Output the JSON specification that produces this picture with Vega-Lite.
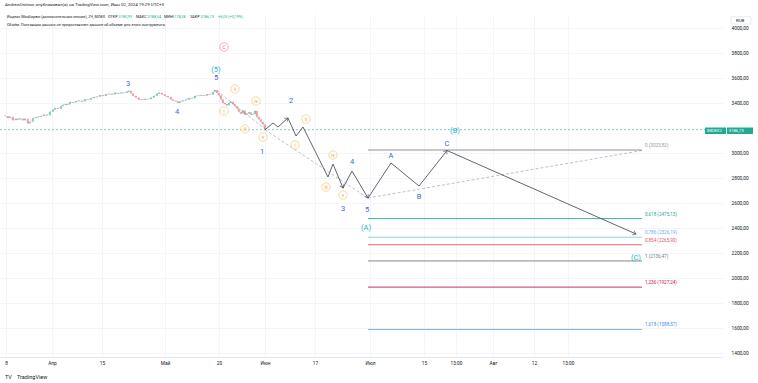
{
  "$schema": "https://vega.github.io/schema/vega-lite/v6.json",
  "width": 723,
  "height": 343,
  "autosize": {"type": "none"},
  "padding": {"left": 0, "top": 14, "right": 35, "bottom": 26},
  "background": "white",
  "config": {
    "font": "Roboto",
    "view": {"stroke": null},
    "axis": {"title": null}
  },
  "title": {
    "text": "AndrewUstinov опубликовал(а) на TradingView.com, Июн 02, 2024 19:29 UTC+3",
    "anchor": "start",
    "frame": "group",
    "fontSize": 4.4,
    "fontWeight": "normal",
    "color": "#131722",
    "offset": 7,
    "dx": 5
  },
  "datasets": {
    "candles": [
      {"t":5,"p":3296,"o":3300},{"t":8,"p":3280,"o":3296},{"t":10,"p":3290,"o":3280},{"t":13,"p":3262,"o":3290},
      {"t":16,"p":3275,"o":3262},{"t":18,"p":3268,"o":3275},{"t":20,"p":3276,"o":3268},{"t":23,"p":3262,"o":3276},
      {"t":25,"p":3274,"o":3262},{"t":28,"p":3236,"o":3274},{"t":30,"p":3250,"o":3236},{"t":33,"p":3278,"o":3250},
      {"t":36,"p":3284,"o":3278},{"t":38,"p":3290,"o":3284},{"t":41,"p":3296,"o":3290},{"t":44,"p":3306,"o":3296},
      {"t":47,"p":3300,"o":3306},{"t":50,"p":3330,"o":3300},{"t":53,"p":3346,"o":3330},{"t":55,"p":3358,"o":3346},
      {"t":58,"p":3352,"o":3358},{"t":61,"p":3374,"o":3352},{"t":63,"p":3384,"o":3374},{"t":66,"p":3392,"o":3384},
      {"t":68,"p":3388,"o":3392},{"t":70,"p":3408,"o":3388},{"t":73,"p":3404,"o":3408},{"t":76,"p":3414,"o":3404},
      {"t":79,"p":3418,"o":3414},{"t":82,"p":3412,"o":3418},{"t":85,"p":3428,"o":3412},{"t":88,"p":3426,"o":3428},
      {"t":91,"p":3438,"o":3426},{"t":94,"p":3446,"o":3438},{"t":97,"p":3450,"o":3446},{"t":100,"p":3462,"o":3450},
      {"t":103,"p":3456,"o":3462},{"t":106,"p":3470,"o":3456},{"t":109,"p":3474,"o":3470},{"t":112,"p":3468,"o":3474},
      {"t":115,"p":3482,"o":3468},{"t":118,"p":3476,"o":3482},{"t":121,"p":3482,"o":3476},{"t":124,"p":3480,"o":3482},
      {"t":127,"p":3490,"o":3480},{"t":129,"p":3498,"o":3490},{"t":131,"p":3478,"o":3498},{"t":133,"p":3458,"o":3478},
      {"t":136,"p":3444,"o":3458},{"t":139,"p":3428,"o":3444},{"t":142,"p":3424,"o":3428},{"t":145,"p":3432,"o":3424},
      {"t":148,"p":3430,"o":3432},{"t":151,"p":3442,"o":3430},{"t":154,"p":3456,"o":3442},{"t":157,"p":3474,"o":3456},
      {"t":159,"p":3482,"o":3474},{"t":162,"p":3470,"o":3482},{"t":165,"p":3458,"o":3470},{"t":168,"p":3448,"o":3458},
      {"t":171,"p":3430,"o":3448},{"t":173,"p":3420,"o":3430},{"t":176,"p":3414,"o":3420},{"t":178,"p":3400,"o":3414},
      {"t":180,"p":3412,"o":3400},{"t":183,"p":3420,"o":3412},{"t":186,"p":3426,"o":3420},{"t":189,"p":3440,"o":3426},
      {"t":192,"p":3436,"o":3440},{"t":195,"p":3456,"o":3436},{"t":198,"p":3458,"o":3456},{"t":201,"p":3462,"o":3458},
      {"t":204,"p":3458,"o":3462},{"t":207,"p":3470,"o":3458},{"t":210,"p":3466,"o":3470},{"t":213,"p":3490,"o":3466},
      {"t":215,"p":3504,"o":3490},{"t":217,"p":3480,"o":3504},{"t":219,"p":3462,"o":3480},{"t":221,"p":3430,"o":3462},
      {"t":223,"p":3400,"o":3430},{"t":225,"p":3392,"o":3400},{"t":227,"p":3380,"o":3392},{"t":229,"p":3400,"o":3380},
      {"t":231,"p":3410,"o":3400},{"t":233,"p":3390,"o":3410},{"t":235,"p":3374,"o":3390},{"t":237,"p":3356,"o":3374},
      {"t":239,"p":3330,"o":3356},{"t":241,"p":3316,"o":3330},{"t":243,"p":3340,"o":3316},{"t":245,"p":3306,"o":3340},
      {"t":247,"p":3314,"o":3306},{"t":249,"p":3326,"o":3314},{"t":251,"p":3306,"o":3326},{"t":253,"p":3310,"o":3306},
      {"t":255,"p":3338,"o":3310},{"t":257,"p":3290,"o":3338},{"t":259,"p":3270,"o":3290},{"t":261,"p":3250,"o":3270},
      {"t":263,"p":3230,"o":3250},{"t":265,"p":3186.73,"o":3230}
    ],
    "path": [
      {"t":265,"p":3186},{"t":273,"p":3240},{"t":278,"p":3208},{"t":288,"p":3280},{"t":296,"p":3136},
      {"t":303,"p":3208},{"t":328,"p":2808},{"t":333,"p":2912},{"t":343,"p":2720},{"t":352,"p":2856},
      {"t":368,"p":2640},{"t":391,"p":2920},{"t":419,"p":2736},{"t":447,"p":3020},{"t":636,"p":2352}
    ],
    "arrows": [
      {"t":288,"p":3280,"ang":-42},{"t":343,"p":2720,"ang":67},{"t":368,"p":2640,"ang":59},
      {"t":447,"p":3020,"ang":-51},{"t":636,"p":2352,"ang":23}
    ],
    "dashed": [
      {"seg":"a","t":217,"p":3500},{"seg":"a","t":265,"p":3190},
      {"seg":"b","t":265,"p":3186},{"seg":"b","t":368,"p":2640},
      {"seg":"c","t":368,"p":2640},{"seg":"c","t":642,"p":3020}
    ],
    "fib": [
      {"lvl":"0","t":368,"t2":642,"p":3023.82},
      {"lvl":"0,618","t":368,"t2":642,"p":2475.13},
      {"lvl":"0,786","t":368,"t2":642,"p":2326.19},
      {"lvl":"0,854","t":368,"t2":642,"p":2265.90},
      {"lvl":"1","t":368,"t2":642,"p":2136.47},
      {"lvl":"1,236","t":368,"t2":642,"p":1927.24},
      {"lvl":"1,618","t":368,"t2":642,"p":1588.57}
    ],
    "fiblab": [
      {"lvl":"0","t":645,"p":3023.82,"label":"0 (3023,82)"},
      {"lvl":"0,618","t":645,"p":2475.13,"label":"0,618 (2475,13)"},
      {"lvl":"0,786","t":645,"p":2326.19,"label":"0,786 (2326,19)"},
      {"lvl":"0,854","t":645,"p":2265.90,"label":"0,854 (2265,90)"},
      {"lvl":"1","t":645,"p":2136.47,"label":"1 (2136,47)"},
      {"lvl":"1,236","t":645,"p":1927.24,"label":"1,236 (1927,24)"},
      {"lvl":"1,618","t":645,"p":1588.57,"label":"1,618 (1588,57)"}
    ],
    "waves": [
      {"g":"b","t":128,"p":3552,"txt":"3"},{"g":"b","t":177,"p":3328,"txt":"4"},{"g":"b","t":216,"p":3600,"txt":"5"},
      {"g":"b","t":262,"p":3008,"txt":"1"},{"g":"b","t":291,"p":3416,"txt":"2"},{"g":"b","t":343,"p":2552,"txt":"3"},
      {"g":"b","t":352,"p":2928,"txt":"4"},{"g":"b","t":367,"p":2544,"txt":"5"},{"g":"b","t":391,"p":2976,"txt":"A"},
      {"g":"b","t":419,"p":2648,"txt":"B"},{"g":"b","t":447,"p":3072,"txt":"C"},
      {"g":"c","t":216,"p":3664,"txt":"(5)"},{"g":"c","t":366,"p":2400,"txt":"(A)"},
      {"g":"c","t":455,"p":3176,"txt":"(B)"},{"g":"c","t":636,"p":2160,"txt":"(C)"}
    ],
    "circled": [
      {"g":"o","t":224,"p":3336,"txt":"i"},{"g":"o","t":235,"p":3512,"txt":"ii"},{"g":"o","t":245,"p":3192,"txt":"iii"},
      {"g":"o","t":256,"p":3416,"txt":"iv"},{"g":"o","t":263,"p":3128,"txt":"v"},{"g":"o","t":295,"p":3064,"txt":"i"},
      {"g":"o","t":306,"p":3272,"txt":"ii"},{"g":"o","t":326,"p":2728,"txt":"iii"},{"g":"o","t":333,"p":2984,"txt":"iv"},
      {"g":"o","t":343,"p":2664,"txt":"v"},{"g":"r","t":224,"p":3848,"txt":"C"}
    ],
    "legend": [
      {"g":"k","t":7,"p":4088,"txt":"Индекс Мосбиржи (дополнительная сессия), 2Ч, MOEX"},
      {"g":"k","t":108,"p":4088,"txt":"ОТКР"},{"g":"v","t":118.5,"p":4088,"txt":"3180,93"},
      {"g":"k","t":136,"p":4088,"txt":"МАКС"},{"g":"v","t":147.5,"p":4088,"txt":"3188,54"},
      {"g":"k","t":164,"p":4088,"txt":"МИН"},{"g":"v","t":172,"p":4088,"txt":"3178,38"},
      {"g":"k","t":190,"p":4088,"txt":"ЗАКР"},{"g":"v","t":200.5,"p":4088,"txt":"3186,73"},
      {"g":"v","t":218,"p":4088,"txt":"+6,05 (+0,19%)"},
      {"g":"k","t":7,"p":4024,"txt":"Объём: Поставщик данных не предоставляет данные об объеме для этого инструмента."}
    ],
    "last": [{"t":0,"t2":723,"p":3186.73}],
    "lastbox": [
      {"t":705,"t2":726,"p":3204,"p2":3152,"txt":"IMOEX2"},
      {"t":727,"t2":753,"p":3204,"p2":3152,"txt":"3186,73"}
    ],
    "rub": [{"t":731,"t2":751,"p":4090,"p2":4032,"txt":"RUB"}],
    "logo": [{"t":5,"p":1208,"txt":"TV"},{"t":17,"p":1208,"txt":"TradingView"}]
  },
  "encoding": {
    "x": {
      "field": "t", "type": "quantitative",
      "scale": {"domain": [0, 723], "nice": false, "zero": false},
      "axis": {
        "orient": "bottom",
        "values": [6, 52, 102, 165, 219, 265, 315, 370, 424, 456, 493, 534, 568],
        "labelExpr": "datum.value == 6 ? '8' : datum.value == 52 ? 'Апр' : datum.value == 102 ? '15' : datum.value == 165 ? 'Май' : datum.value == 219 ? '20' : datum.value == 265 ? 'Июн' : datum.value == 315 ? '17' : datum.value == 370 ? 'Июл' : datum.value == 424 ? '15' : datum.value == 456 ? '13:00' : datum.value == 493 ? 'Авг' : datum.value == 534 ? '12' : '13:00'",
        "labelFontSize": 4.8, "labelColor": "#131722", "labelPadding": 3,
        "labelFlush": false, "labelOverlap": false,
        "ticks": false, "domain": true, "domainColor": "#e0e3eb", "domainWidth": 0.8,
        "grid": true, "gridColor": "#f0f3fa", "gridWidth": 0.8
      }
    },
    "y": {
      "field": "p", "type": "quantitative",
      "scale": {"domain": [1368, 4112], "nice": false, "zero": false},
      "axis": {
        "orient": "right",
        "values": [1400, 1600, 1800, 2000, 2200, 2400, 2600, 2800, 3000, 3400, 3600, 3800, 4000],
        "labelExpr": "replace(format(datum.value, '.2f'), '.', ',')",
        "labelFontSize": 4.8, "labelColor": "#131722", "labelPadding": 8,
        "ticks": false, "domain": false,
        "grid": true, "gridColor": "#f0f3fa", "gridWidth": 0.8
      }
    }
  },
  "layer": [
    {
      "data": {"name": "last"},
      "mark": {"type": "rule", "color": "#22ab94", "strokeWidth": 0.6, "strokeDash": [2, 2]},
      "encoding": {"x2": {"field": "t2"}}
    },
    {
      "data": {"name": "fib"},
      "mark": {"type": "rule"},
      "encoding": {
        "x2": {"field": "t2"},
        "color": {"condition": [
          {"test": "datum.lvl == '0'", "value": "#c5c7cd"},
          {"test": "datum.lvl == '0,618'", "value": "#26a69a"},
          {"test": "datum.lvl == '0,786'", "value": "#8cc6f0"},
          {"test": "datum.lvl == '0,854'", "value": "#e0575f"},
          {"test": "datum.lvl == '1,236'", "value": "#c2185b"},
          {"test": "datum.lvl == '1,618'", "value": "#64b0ee"}
        ], "value": "#787b86"},
        "strokeWidth": {"condition": {"test": "datum.lvl == '0'", "value": 1.8}, "value": 0.9}
      }
    },
    {
      "data": {"name": "fiblab"},
      "mark": {"type": "text", "align": "left", "baseline": "bottom", "dy": -2, "fontSize": 4.6},
      "encoding": {
        "text": {"field": "label"},
        "color": {"condition": [
          {"test": "datum.lvl == '0'", "value": "#9598a1"},
          {"test": "datum.lvl == '0,618'", "value": "#26a69a"},
          {"test": "datum.lvl == '0,786'", "value": "#64b0ee"},
          {"test": "datum.lvl == '0,854'", "value": "#e0575f"},
          {"test": "datum.lvl == '1,236'", "value": "#c2185b"},
          {"test": "datum.lvl == '1,618'", "value": "#3d8fe0"}
        ], "value": "#787b86"}
      }
    },
    {
      "data": {"name": "dashed"},
      "mark": {"type": "line", "color": "#a3a6af", "strokeWidth": 0.7, "strokeDash": [3, 2]},
      "encoding": {"detail": {"field": "seg"}}
    },
    {
      "data": {"name": "candles"},
      "mark": {"type": "line", "color": "#a8b3b0", "strokeWidth": 0.5},
      "encoding": {}
    },
    {
      "data": {"name": "candles"},
      "mark": {"type": "rule", "strokeWidth": 1},
      "encoding": {
        "y2": {"field": "o"},
        "color": {"condition": {"test": "datum.p >= datum.o", "value": "#26a69a"}, "value": "#ef5350"}
      }
    },
    {
      "data": {"name": "path"},
      "mark": {"type": "line", "color": "#50535e", "strokeWidth": 0.9},
      "encoding": {}
    },
    {
      "data": {"name": "arrows"},
      "mark": {"type": "point", "shape": "M-1,-0.7L0,0L-1,0.7", "filled": false, "color": "#50535e", "strokeWidth": 0.9, "size": 40},
      "encoding": {"angle": {"field": "ang", "type": "quantitative", "scale": null}}
    },
    {
      "data": {"name": "circled"},
      "mark": {"type": "point", "shape": "circle", "filled": true, "fill": "white", "strokeWidth": 0.8, "size": 70},
      "encoding": {
        "stroke": {"condition": {"test": "datum.g == 'r'", "value": "#e57373"}, "value": "#f7b955"}
      }
    },
    {
      "data": {"name": "circled"},
      "mark": {"type": "text", "align": "center", "baseline": "middle", "fontSize": 5},
      "encoding": {
        "text": {"field": "txt"},
        "color": {"condition": {"test": "datum.g == 'r'", "value": "#e57373"}, "value": "#f0a030"}
      }
    },
    {
      "data": {"name": "waves"},
      "mark": {"type": "text", "align": "center", "baseline": "middle", "fontSize": 7.5},
      "encoding": {
        "text": {"field": "txt"},
        "color": {"condition": {"test": "datum.g == 'c'", "value": "#26b5c9"}, "value": "#3b69c8"}
      }
    },
    {
      "data": {"name": "legend"},
      "mark": {"type": "text", "align": "left", "baseline": "middle", "fontSize": 3.8},
      "encoding": {
        "text": {"field": "txt"},
        "color": {"condition": {"test": "datum.g == 'v'", "value": "#22ab94"}, "value": "#131722"}
      }
    },
    {
      "data": {"name": "lastbox"},
      "mark": {"type": "rect", "color": "#22ab94"},
      "encoding": {"x2": {"field": "t2"}, "y2": {"field": "p2"}}
    },
    {
      "data": {"name": "lastbox"},
      "mark": {"type": "text", "align": "left", "baseline": "top", "dx": 1.8, "dy": 1.4, "fontSize": 4.2, "color": "white"},
      "encoding": {"text": {"field": "txt"}}
    },
    {
      "data": {"name": "rub"},
      "mark": {"type": "rect", "fill": "white", "stroke": "#e0e3eb", "strokeWidth": 0.7},
      "encoding": {"x2": {"field": "t2"}, "y2": {"field": "p2"}}
    },
    {
      "data": {"name": "rub"},
      "mark": {"type": "text", "align": "left", "baseline": "top", "dx": 5, "dy": 1.8, "fontSize": 4.4, "color": "#131722"},
      "encoding": {"text": {"field": "txt"}}
    },
    {
      "data": {"name": "logo"},
      "mark": {"type": "text", "align": "left", "baseline": "middle", "fontSize": 5.5, "color": "#131722"},
      "encoding": {
        "text": {"field": "txt"},
        "fontWeight": {"condition": {"test": "datum.txt == 'TV'", "value": "bold"}, "value": "normal"}
      }
    }
  ]
}
